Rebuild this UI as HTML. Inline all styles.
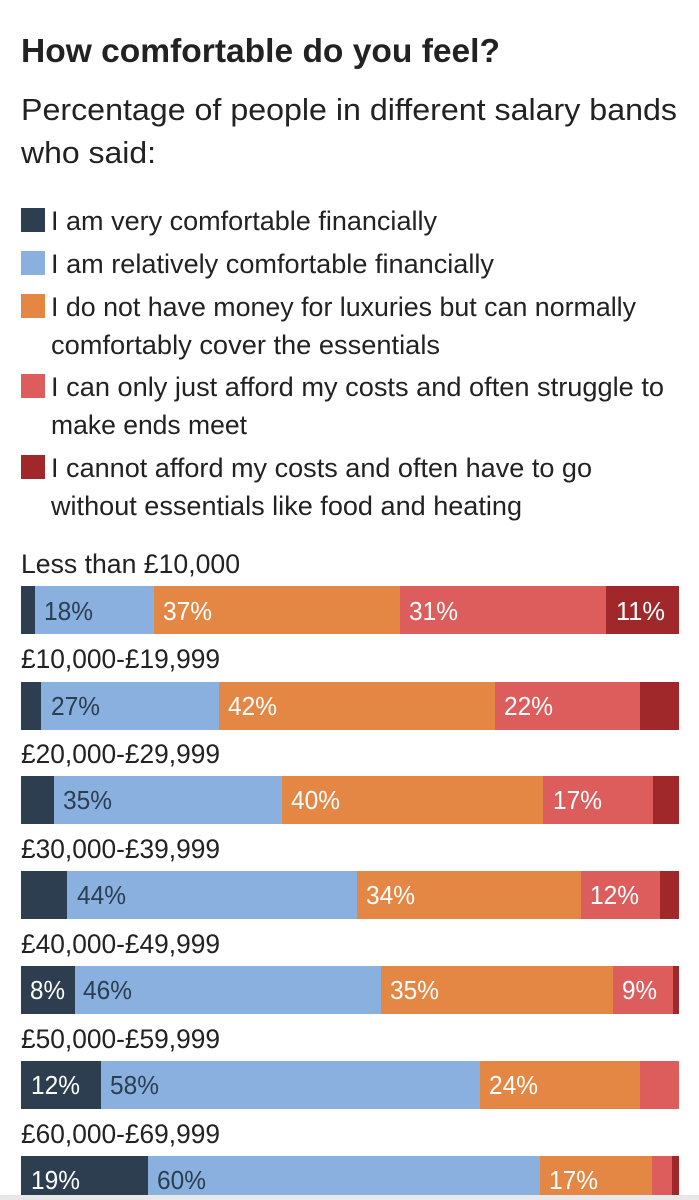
<!DOCTYPE html>
<html><head><meta charset="utf-8"><style>
html,body{margin:0;padding:0;background:#fff;}
svg{display:block;}
text{font-family:"Liberation Sans",sans-serif;}
</style></head><body>
<svg width="699" height="1200" viewBox="0 0 699 1200" xmlns="http://www.w3.org/2000/svg">
<rect x="0" y="0" width="699" height="1200" fill="#fff"/>
<g fill="#222">
<text x="21" y="62" font-size="33" font-weight="bold" textLength="479" lengthAdjust="spacingAndGlyphs">How comfortable do you feel?</text>
<text x="21" y="120" font-size="31" textLength="656" lengthAdjust="spacingAndGlyphs">Percentage of people in different salary bands</text>
<text x="21" y="163" font-size="31" textLength="135" lengthAdjust="spacingAndGlyphs">who said:</text>
</g>
<rect x="21" y="208" width="24" height="24" fill="#2c3e50"/>
<rect x="21" y="251" width="24" height="24" fill="#89b0de"/>
<rect x="21" y="294" width="24" height="24" fill="#e58744"/>
<rect x="21" y="374" width="24" height="24" fill="#dd5c5c"/>
<rect x="21" y="455" width="24" height="24" fill="#a0282a"/>
<g fill="#222" font-size="27">
<text x="51" y="230" textLength="386" lengthAdjust="spacingAndGlyphs">I am very comfortable financially</text>
<text x="51" y="273" textLength="443" lengthAdjust="spacingAndGlyphs">I am relatively comfortable financially</text>
<text x="51" y="316" textLength="585" lengthAdjust="spacingAndGlyphs">I do not have money for luxuries but can normally</text>
<text x="51" y="354" textLength="389" lengthAdjust="spacingAndGlyphs">comfortably cover the essentials</text>
<text x="51" y="396" textLength="613" lengthAdjust="spacingAndGlyphs">I can only just afford my costs and often struggle to</text>
<text x="51" y="434" textLength="196" lengthAdjust="spacingAndGlyphs">make ends meet</text>
<text x="51" y="477" textLength="541" lengthAdjust="spacingAndGlyphs">I cannot afford my costs and often have to go</text>
<text x="51" y="515" textLength="471" lengthAdjust="spacingAndGlyphs">without essentials like food and heating</text>
</g>
<g fill="#222" font-size="27">
<text x="21" y="573" textLength="219" lengthAdjust="spacingAndGlyphs">Less than £10,000</text>
<text x="21" y="668" textLength="199" lengthAdjust="spacingAndGlyphs">£10,000-£19,999</text>
<text x="21" y="763" textLength="199" lengthAdjust="spacingAndGlyphs">£20,000-£29,999</text>
<text x="21" y="858" textLength="199" lengthAdjust="spacingAndGlyphs">£30,000-£39,999</text>
<text x="21" y="953" textLength="199" lengthAdjust="spacingAndGlyphs">£40,000-£49,999</text>
<text x="21" y="1048" textLength="199" lengthAdjust="spacingAndGlyphs">£50,000-£59,999</text>
<text x="21" y="1143" textLength="199" lengthAdjust="spacingAndGlyphs">£60,000-£69,999</text>
</g>
<g transform="translate(0,586)">
<rect x="21" width="14" height="48" fill="#2c3e50"/><rect x="35" width="119" height="48" fill="#89b0de"/><rect x="154" width="246" height="48" fill="#e58744"/><rect x="400" width="206" height="48" fill="#dd5c5c"/><rect x="606" width="73" height="48" fill="#a0282a"/>
</g>
<g transform="translate(0,682)">
<rect x="21" width="20" height="48" fill="#2c3e50"/><rect x="41" width="178" height="48" fill="#89b0de"/><rect x="219" width="276" height="48" fill="#e58744"/><rect x="495" width="145" height="48" fill="#dd5c5c"/><rect x="640" width="39" height="48" fill="#a0282a"/>
</g>
<g transform="translate(0,776)">
<rect x="21" width="33" height="48" fill="#2c3e50"/><rect x="54" width="228" height="48" fill="#89b0de"/><rect x="282" width="261" height="48" fill="#e58744"/><rect x="543" width="110" height="48" fill="#dd5c5c"/><rect x="653" width="26" height="48" fill="#a0282a"/>
</g>
<g transform="translate(0,871)">
<rect x="21" width="46" height="48" fill="#2c3e50"/><rect x="67" width="290" height="48" fill="#89b0de"/><rect x="357" width="224" height="48" fill="#e58744"/><rect x="581" width="79" height="48" fill="#dd5c5c"/><rect x="660" width="19" height="48" fill="#a0282a"/>
</g>
<g transform="translate(0,966)">
<rect x="21" width="54" height="48" fill="#2c3e50"/><rect x="75" width="306" height="48" fill="#89b0de"/><rect x="381" width="232" height="48" fill="#e58744"/><rect x="613" width="60" height="48" fill="#dd5c5c"/><rect x="673" width="6" height="48" fill="#a0282a"/>
</g>
<g transform="translate(0,1061)">
<rect x="21" width="80" height="48" fill="#2c3e50"/><rect x="101" width="379" height="48" fill="#89b0de"/><rect x="480" width="160" height="48" fill="#e58744"/><rect x="640" width="39" height="48" fill="#dd5c5c"/>
</g>
<g transform="translate(0,1156)">
<rect x="21" width="127" height="40" fill="#2c3e50"/><rect x="148" width="392" height="40" fill="#89b0de"/><rect x="540" width="112" height="40" fill="#e58744"/><rect x="652" width="20" height="40" fill="#dd5c5c"/><rect x="672" width="7" height="40" fill="#a0282a"/>
</g>
<rect x="0" y="1195" width="699" height="5" fill="#e8e8e8"/>
<g font-size="26">
<text x="44" y="620" fill="#2c3e50" textLength="49" lengthAdjust="spacingAndGlyphs">18%</text><text x="163" y="620" fill="#fff" textLength="49" lengthAdjust="spacingAndGlyphs">37%</text><text x="409" y="620" fill="#fff" textLength="49" lengthAdjust="spacingAndGlyphs">31%</text><text x="616" y="620" fill="#fff" textLength="49" lengthAdjust="spacingAndGlyphs">11%</text>
<text x="51" y="715" fill="#2c3e50" textLength="49" lengthAdjust="spacingAndGlyphs">27%</text><text x="228" y="715" fill="#fff" textLength="49" lengthAdjust="spacingAndGlyphs">42%</text><text x="504" y="715" fill="#fff" textLength="49" lengthAdjust="spacingAndGlyphs">22%</text>
<text x="63" y="809" fill="#2c3e50" textLength="49" lengthAdjust="spacingAndGlyphs">35%</text><text x="291" y="809" fill="#fff" textLength="49" lengthAdjust="spacingAndGlyphs">40%</text><text x="553" y="809" fill="#fff" textLength="49" lengthAdjust="spacingAndGlyphs">17%</text>
<text x="77" y="904" fill="#2c3e50" textLength="49" lengthAdjust="spacingAndGlyphs">44%</text><text x="366" y="904" fill="#fff" textLength="49" lengthAdjust="spacingAndGlyphs">34%</text><text x="590" y="904" fill="#fff" textLength="49" lengthAdjust="spacingAndGlyphs">12%</text>
<text x="30" y="999" fill="#fff" textLength="35" lengthAdjust="spacingAndGlyphs">8%</text><text x="83" y="999" fill="#2c3e50" textLength="49" lengthAdjust="spacingAndGlyphs">46%</text><text x="390" y="999" fill="#fff" textLength="49" lengthAdjust="spacingAndGlyphs">35%</text><text x="622" y="999" fill="#fff" textLength="35" lengthAdjust="spacingAndGlyphs">9%</text>
<text x="31" y="1094" fill="#fff" textLength="49" lengthAdjust="spacingAndGlyphs">12%</text><text x="110" y="1094" fill="#2c3e50" textLength="49" lengthAdjust="spacingAndGlyphs">58%</text><text x="489" y="1094" fill="#fff" textLength="49" lengthAdjust="spacingAndGlyphs">24%</text>
<text x="31" y="1189" fill="#fff" textLength="49" lengthAdjust="spacingAndGlyphs">19%</text><text x="157" y="1189" fill="#2c3e50" textLength="49" lengthAdjust="spacingAndGlyphs">60%</text><text x="549" y="1189" fill="#fff" textLength="49" lengthAdjust="spacingAndGlyphs">17%</text>
</g>
</svg>
</body></html>
